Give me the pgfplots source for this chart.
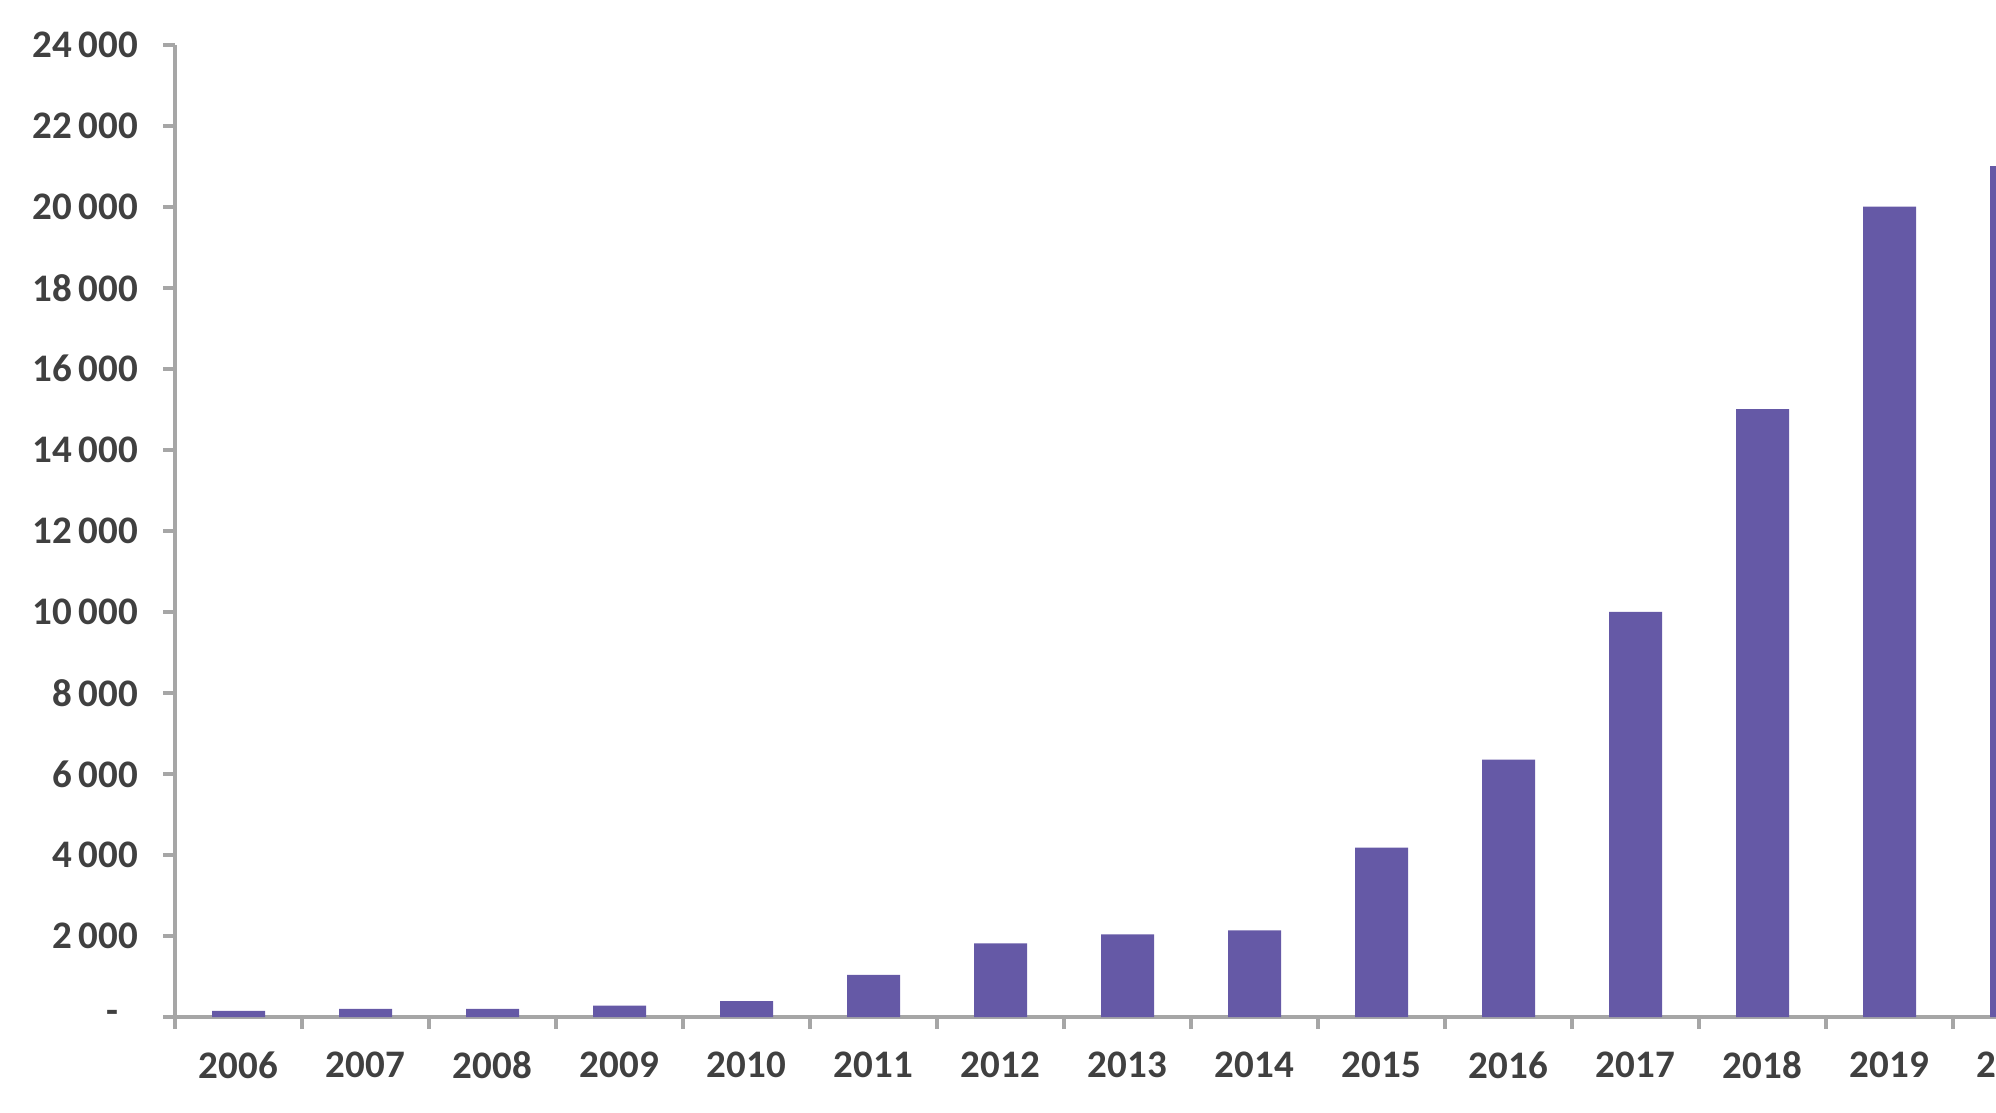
\documentclass[border=0pt]{standalone}
\usepackage{fontspec}
\setmainfont{Carlito}
\usepackage{pgfplots}
\pgfplotsset{compat=1.18}
\definecolor{barcol}{RGB}{101,89,166}
\definecolor{axcol}{RGB}{166,166,166}
\definecolor{txtcol}{RGB}{64,64,64}
\begin{document}
\begin{tikzpicture}
\useasboundingbox (0,0) rectangle (998pt,556.5pt);
\clip (0,0) rectangle (998pt,556.5pt);
\begin{axis}[
  at={(87.5pt,48pt)}, anchor=south west,
  scale only axis,
  width=952.5pt, height=486.2pt,
  xmin=-0.5, xmax=14.5,
  ymin=0, ymax=24000,
  scaled y ticks=false,
  axis x line*=bottom, axis y line*=left,
  axis line style={draw=axcol, line width=2.2pt},
  every tick/.style={draw=axcol, line width=2pt},
  tick align=outside,
  major tick length=6pt,
  xtick={-0.5,0.5,...,14.5},
  x tick label as interval,
  xticklabels={2006,2007,2008,2009,2010,2011,2012,2013,2014,2015,2016,2017,2018,2019,2020},
  ytick={0,2000,...,24000},
  yticklabels={{-\hbox to 9.5pt{}},{2\,000},{4\,000},{6\,000},{8\,000},{10\,000},{12\,000},{14\,000},{16\,000},{18\,000},{20\,000},{22\,000},{24\,000}},
  tick label style={font=\fontsize{19.5}{20}\selectfont\bfseries, text=txtcol},
  yticklabel style={xshift=-9pt},
  xticklabel style={yshift=-8pt},
  ybar, bar width=26.5pt,
  clip=false,
]
\addplot[fill=barcol, draw=none] coordinates {
 (0,150) (1,200) (2,200) (3,280) (4,390) (5,1040) (6,1820) (7,2040) (8,2140)
 (9,4180) (10,6350) (11,10000) (12,15000) (13,20000) (14,21000)};
\end{axis}
\end{tikzpicture}
\end{document}
